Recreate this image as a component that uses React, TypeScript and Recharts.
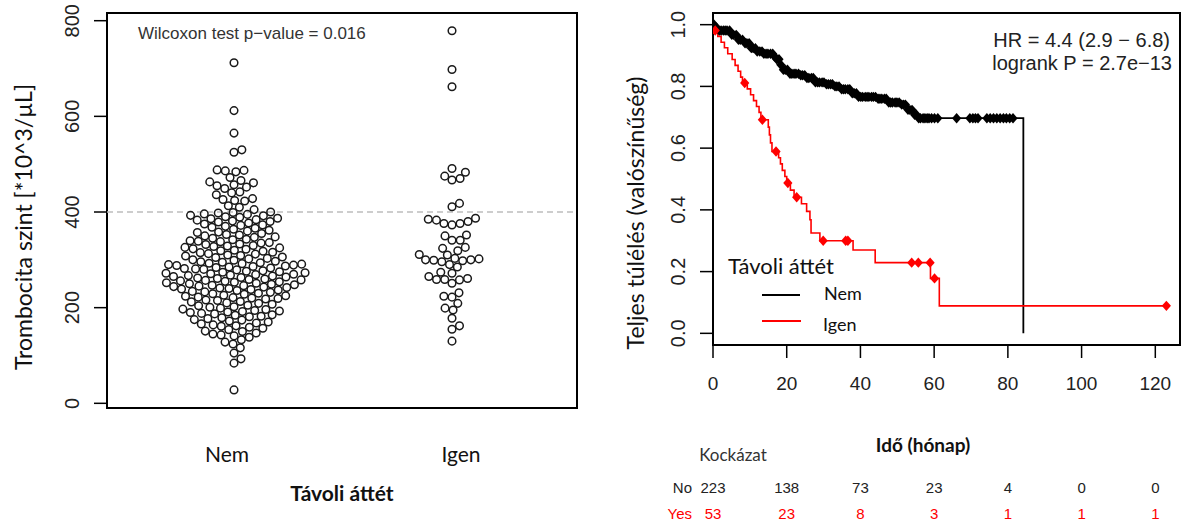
import React from 'react';
import {
  ScatterChart,
  Scatter,
  XAxis,
  YAxis,
  ReferenceLine,
  ReferenceArea,
  ComposedChart,
  Line,
} from 'recharts';

// ---------------- DATA ----------------
const groupLabels = ['Nem', 'Igen'];

const nemValues = [
  712, 612, 565, 530, 525,
  488, 487, 486, 484, 472, 466, 463, 461, 457, 455, 452, 449,
  442, 440, 436, 428, 426, 424, 423, 413, 410, 405,
  28, 84, 93,
  105, 116,
  124, 128, 133, 138,
  141, 143, 145, 147, 150, 151, 154, 157, 159,
  161, 162, 164, 166, 168, 170, 172, 174, 175, 177, 179,
  181, 182, 184, 185, 187, 188, 190, 191, 192, 193, 194, 196, 197, 199,
  201, 202, 204, 205, 207, 209, 210, 212, 213, 215, 216, 218, 219,
  220, 221, 222, 224, 225, 226, 228, 229, 230, 232, 233, 234, 236, 237, 238, 239,
  240, 241, 242, 243, 244, 245, 246, 247, 248, 249, 250, 251, 252, 253, 254, 255, 256, 257, 258, 259,
  260, 261, 262, 263, 264, 265, 266, 267, 268, 269, 270, 271, 272, 273, 274, 275, 276, 277, 279,
  280, 281, 282, 283, 284, 285, 286, 287, 288, 289, 290, 291, 292, 293, 294, 295, 296, 297, 299,
  300, 302, 303, 305, 306, 308, 309, 310, 312, 313, 315, 316, 318, 319,
  320, 322, 323, 325, 326, 328, 329, 330, 332, 333, 335, 336, 338, 339,
  340, 342, 343, 345, 347, 348, 350, 352, 353, 355, 357, 358,
  360, 362, 364, 366, 368, 370, 372, 373, 375, 377, 379,
  380, 381, 383, 384, 386, 387, 389, 390, 392, 393, 395, 396, 398, 399, 400,
];

const igenValues = [
  779, 698, 662,
  491, 483, 475, 470, 467,
  418, 411,
  387, 385, 383, 380, 376, 376, 373,
  352, 350, 341, 341,
  326, 324, 319,
  311, 310, 303, 302, 300, 300, 299, 298, 296, 290,
  285, 274, 272, 265,
  261, 259, 259, 258, 251,
  231, 224, 222,
  209, 199, 195,
  178, 162, 155, 130,
];

const leftYTicks = [0, 200, 400, 600, 800];
const thresholdValue = 400;
const wilcoxonText = 'Wilcoxon test p\u2212value = 0.016';

// Kaplan-Meier (time in months, survival)
const nemKm: [number, number][] = [
  [0, 1], [0.8, 0.991], [1.5, 0.981], [5.0, 0.967], [6.4, 0.951], [8.2, 0.94], [10, 0.924],
  [11.8, 0.913], [13.6, 0.906], [16.5, 0.897], [17.3, 0.888], [18.2, 0.87], [19.1, 0.854],
  [20.4, 0.841], [23.6, 0.836], [25.4, 0.827], [27.7, 0.813], [30.8, 0.807], [32.5, 0.8],
  [34.5, 0.791], [37.2, 0.778], [39, 0.766], [44.4, 0.76], [47.1, 0.748], [50.7, 0.741],
  [52.5, 0.724], [54.3, 0.708], [55.7, 0.697], [84.2, 0],
];
const igenKm: [number, number][] = [
  [0, 1], [0.4, 0.981], [1.3, 0.962], [2.2, 0.943], [3.1, 0.925], [4.0, 0.906], [5.2, 0.887],
  [6.0, 0.868], [6.8, 0.849], [7.5, 0.83], [8.0, 0.811], [9.3, 0.792], [10.2, 0.773],
  [11.0, 0.754], [11.8, 0.735], [12.5, 0.716], [13.0, 0.692], [15.0, 0.668], [15.3, 0.643],
  [15.6, 0.617], [16.0, 0.589], [17.8, 0.569], [18.3, 0.549], [18.8, 0.528], [19.5, 0.508],
  [20.0, 0.487], [21.0, 0.464], [22.0, 0.441], [24.0, 0.42], [25.4, 0.395], [26.3, 0.368],
  [26.6, 0.325], [29.0, 0.3], [38.0, 0.27], [44.0, 0.229], [59.0, 0.178], [61.4, 0.089],
  [123, 0.089],
];
const nemCensorTimes = [
  0.3, 0.9, 1.7, 2.2, 2.8, 3.3, 3.8, 4.5, 5.1, 5.6, 6.3, 6.9, 7.4, 8.0, 8.7, 9.2, 9.8,
  10.4, 10.9, 11.5, 12.0, 12.7, 13.3, 13.8, 14.4, 14.9, 15.6, 16.2, 16.7, 17.3, 17.9, 18.4, 19.1, 19.6,
  20.2, 20.9, 21.4, 22.0, 22.5, 23.2, 23.8, 24.3, 24.9, 25.5, 26.0, 26.7, 27.2, 27.8, 28.4, 28.9, 29.6,
  30.1, 30.8, 31.3, 31.9, 32.4, 33.1, 33.6, 34.2, 34.9, 35.4, 35.9, 36.6, 37.1, 37.8, 38.3, 38.9, 39.5,
  40.1, 40.6, 41.3, 41.8, 42.3, 43.0, 43.5, 44.1, 44.8, 45.3, 45.8, 46.5, 47.0, 47.7, 48.2, 48.7, 49.4, 49.9,
  50.5, 51.2, 51.7, 52.2, 52.9, 53.4, 54.0, 54.7, 55.2, 55.8, 56.3, 57.0, 57.5, 58.1, 58.6, 59.3, 60.1, 61.0,
  66.1, 69.7, 70.5, 71.2, 71.9, 74.3, 75.2, 76.1, 77.0, 77.9, 78.8, 79.6, 80.5, 81.4,
];
const igenCensorTimes = [0.6, 8.6, 13.4, 17.1, 20.3, 22.7, 29.9, 36.0, 36.6, 53.9, 55.7, 58.9, 60.1, 123];

const kmXTicks = [0, 20, 40, 60, 80, 100, 120];
const kmYTicks = [0, 0.2, 0.4, 0.6, 0.8, 1.0];
const riskNo = [223, 138, 73, 23, 4, 0, 0];
const riskYes = [53, 23, 8, 3, 1, 1, 1];
const hrText = 'HR = 4.4 (2.9 \u2212 6.8)';
const logrankText = 'logrank P = 2.7e\u221213';

// ---------------- STYLE / LAYOUT ----------------
const ARIAL = '"Liberation Sans", Arial, Helvetica, sans-serif';
const CALIBRI = 'Lato, "Open Sans", sans-serif';
const RED = '#ff0000';

const L_X_DOMAIN: [number, number] = [0.4174, 2.5734];
const L_Y_DOMAIN: [number, number] = [-9.8, 816.1];
const L_PLOT_W = 470;
const L_PLOT_H = 395;
const PX_PER_X = L_PLOT_W / (L_X_DOMAIN[1] - L_X_DOMAIN[0]);
const PX_PER_Y = L_PLOT_H / (L_Y_DOMAIN[1] - L_Y_DOMAIN[0]);
const DOT_SPACING = 8.2;

const R_X_DOMAIN: [number, number] = [0, 126.7];
const R_Y_DOMAIN: [number, number] = [-0.0378, 1.0378];

// beeswarm "swarm" layout (ascending priority), computed in pixel space
function swarm(values: number[], center: number) {
  const sorted = [...values].sort((a, b) => a - b);
  const placed: { x: number; y: number }[] = [];
  const out: { x: number; y: number }[] = [];
  const D = DOT_SPACING;
  for (const v of sorted) {
    const y = v * PX_PER_Y;
    const cands: number[] = [0];
    const near = placed.filter((p) => Math.abs(p.y - y) < D);
    for (const p of near) cands.push(p.x + Math.sqrt(D * D - (p.y - y) ** 2));
    for (const p of near) cands.push(p.x - Math.sqrt(D * D - (p.y - y) ** 2));
    let best: number | null = null;
    for (const c of cands) {
      const bad = near.some((p) => (p.x - c) ** 2 + (p.y - y) ** 2 < D * D - 1e-6);
      if (bad) continue;
      if (best === null || Math.abs(c) < Math.abs(best)) best = c;
    }
    const bx = best === null ? 0 : best;
    placed.push({ x: bx, y });
    out.push({ x: center + bx / PX_PER_X, y: v });
  }
  return out;
}

const nemPoints = swarm(nemValues, 1);
const igenPoints = swarm(igenValues, 2);

const toSteps = (arr: [number, number][]) => arr.map(([t, s]) => ({ t, s }));
const survAt = (arr: [number, number][], t: number) => {
  let s = arr[0][1];
  for (const [tt, ss] of arr) if (tt <= t) s = ss;
  return s;
};
const nemSteps = toSteps(nemKm);
const igenSteps = toSteps(igenKm);
const nemCensor = nemCensorTimes.map((t) => ({ t, s: survAt(nemKm, t) }));
const igenCensor = igenCensorTimes.map((t) => ({ t, s: survAt(igenKm, t) }));

// ---------------- SHAPES / TICKS ----------------
const OpenCircle = (props: any) => {
  const { cx, cy } = props;
  if (cx == null || cy == null) return null;
  return <circle cx={cx} cy={cy} r={3.8} fill="none" stroke="#1a1a1a" strokeWidth={1.5} />;
};

const makeDiamond = (color: string) => (props: any) => {
  const { cx, cy } = props;
  if (cx == null || cy == null) return null;
  const w = 4.6;
  const h = 5.2;
  return (
    <polygon
      points={`${cx},${cy - h} ${cx + w},${cy} ${cx},${cy + h} ${cx - w},${cy}`}
      fill={color}
    />
  );
};
const BlackDiamond = makeDiamond('#000');
const RedDiamond = makeDiamond(RED);

const RotYTick = (digits: number) => (props: any) => {
  const { x, y, payload } = props;
  const label = digits > 0 ? Number(payload.value).toFixed(digits) : String(payload.value);
  return (
    <text
      x={x}
      y={y}
      transform={`rotate(-90, ${x}, ${y})`}
      textAnchor="middle"
      fontFamily={ARIAL}
      fontSize={20}
      fill="#222"
    >
      {label}
    </text>
  );
};
const LeftYTick = RotYTick(0);
const RightYTick = RotYTick(1);

const labelNudge: Record<number, number> = { 1: -7, 2: 9 };
const CatTick = (props: any) => {
  const { x, payload } = props;
  const label = groupLabels[payload.value - 1];
  return (
    <text
      x={x + (labelNudge[payload.value] || 0)}
      y={453}
      textAnchor="middle"
      dominantBaseline="central"
      fontFamily={CALIBRI}
      fontSize={21}
      fill="#111"
    >
      {label}
    </text>
  );
};

const KmXTick = (props: any) => {
  const { x, payload } = props;
  const i = kmXTicks.indexOf(payload.value);
  return (
    <g>
      <text x={x} y={383} textAnchor="middle" dominantBaseline="central" fontFamily={ARIAL} fontSize={19} fill="#222">
        {payload.value}
      </text>
      <text x={x} y={487} textAnchor="middle" dominantBaseline="central" fontFamily={ARIAL} fontSize={15} fill="#222">
        {riskNo[i]}
      </text>
      <text x={x} y={513} textAnchor="middle" dominantBaseline="central" fontFamily={ARIAL} fontSize={15} fill={RED}>
        {riskYes[i]}
      </text>
    </g>
  );
};

// ---------------- APP ----------------
export default function App() {
  return (
    <div
      style={{
        position: 'absolute',
        left: 0,
        top: 0,
        width: 1182,
        height: 520,
        background: '#fff',
        overflow: 'hidden',
      }}
    >
      {/* Left: beeswarm */}
      <div style={{ position: 'absolute', left: 0, top: 0 }}>
        <ScatterChart width={600} height={520} margin={{ top: 13, right: 23, bottom: 52, left: 0 }}>
          <XAxis
            type="number"
            dataKey="x"
            domain={L_X_DOMAIN}
            ticks={[1, 2]}
            height={60}
            axisLine={false}
            tickLine={false}
            tick={<CatTick />}
            allowDataOverflow
          />
          <YAxis
            type="number"
            dataKey="y"
            domain={L_Y_DOMAIN}
            ticks={leftYTicks}
            width={107}
            axisLine={false}
            tickSize={13}
            tickMargin={15}
            tickLine={{ stroke: '#000', strokeWidth: 1.5 }}
            tick={<LeftYTick />}
            allowDataOverflow
          />
          <ReferenceLine y={thresholdValue} stroke="#bdbdbd" strokeDasharray="6 4" strokeWidth={1.5} />
          <ReferenceArea
            x1={L_X_DOMAIN[0]}
            x2={L_X_DOMAIN[1]}
            y1={L_Y_DOMAIN[0]}
            y2={L_Y_DOMAIN[1]}
            fill="none"
            fillOpacity={0}
            stroke="#000"
            strokeWidth={2}
            ifOverflow="visible"
          />
          <Scatter data={nemPoints} shape={<OpenCircle />} isAnimationActive={false} />
          <Scatter data={igenPoints} shape={<OpenCircle />} isAnimationActive={false} />
        </ScatterChart>
      </div>

      {/* Right: Kaplan-Meier */}
      <div style={{ position: 'absolute', left: 600, top: 0 }}>
        <ComposedChart width={582} height={520} margin={{ top: 13, right: 2, bottom: 125, left: 0 }}>
          <XAxis
            type="number"
            dataKey="t"
            domain={R_X_DOMAIN}
            ticks={kmXTicks}
            height={50}
            axisLine={false}
            tickSize={13}
            tickLine={{ stroke: '#000', strokeWidth: 1.5 }}
            tick={<KmXTick />}
            allowDataOverflow
          />
          <YAxis
            type="number"
            dataKey="s"
            domain={R_Y_DOMAIN}
            ticks={kmYTicks}
            width={113}
            axisLine={false}
            tickSize={13}
            tickMargin={15}
            tickLine={{ stroke: '#000', strokeWidth: 1.5 }}
            tick={<RightYTick />}
            allowDataOverflow
          />
          <ReferenceArea
            x1={R_X_DOMAIN[0]}
            x2={R_X_DOMAIN[1]}
            y1={R_Y_DOMAIN[0]}
            y2={R_Y_DOMAIN[1]}
            fill="none"
            fillOpacity={0}
            stroke="#000"
            strokeWidth={2}
            ifOverflow="visible"
          />
          <Line
            data={nemSteps}
            dataKey="s"
            type="stepAfter"
            stroke="#000"
            strokeWidth={1.8}
            dot={false}
            activeDot={false}
            isAnimationActive={false}
          />
          <Line
            data={igenSteps}
            dataKey="s"
            type="stepAfter"
            stroke={RED}
            strokeWidth={1.6}
            dot={false}
            activeDot={false}
            isAnimationActive={false}
          />
          <Scatter data={nemCensor} shape={<BlackDiamond />} isAnimationActive={false} />
          <Scatter data={igenCensor} shape={<RedDiamond />} isAnimationActive={false} />
        </ComposedChart>
      </div>

      {/* Text overlay */}
      <svg
        width={1182}
        height={520}
        style={{ position: 'absolute', left: 0, top: 0, pointerEvents: 'none' }}
      >
        <text x={138} y={33} dominantBaseline="central" fontFamily={ARIAL} fontSize={17} fill="#333">
          {wilcoxonText}
        </text>
        <text
          transform="translate(23,227) rotate(-90)"
          textAnchor="middle"
          dominantBaseline="central"
          fontFamily={CALIBRI}
          fontSize={23}
          fill="#111"
        >
          Trombocita szint [*10^3/µL]
        </text>
        <text x={342} y={492} textAnchor="middle" dominantBaseline="central" fontFamily={CALIBRI} fontWeight="bold" fontSize={21} fill="#111">
          Távoli áttét
        </text>

        <text
          transform="translate(635,213) rotate(-90)"
          textAnchor="middle"
          dominantBaseline="central"
          fontFamily={CALIBRI}
          fontSize={23}
          fill="#111"
        >
          Teljes túlélés (valószínűség)
        </text>
        <text x={1170} y={40} textAnchor="end" dominantBaseline="central" fontFamily={ARIAL} fontSize={20} fill="#222">
          {hrText}
        </text>
        <text x={1172} y={63} textAnchor="end" dominantBaseline="central" fontFamily={ARIAL} fontSize={20} fill="#222">
          {logrankText}
        </text>

        <text x={728} y={265} dominantBaseline="central" fontFamily={CALIBRI} fontSize={22} fill="#111">
          Távoli áttét
        </text>
        <line x1={762} y1={295} x2={800} y2={295} stroke="#000" strokeWidth={2} />
        <text x={824} y={293} dominantBaseline="central" fontFamily={CALIBRI} fontSize={18} fill="#111">
          Nem
        </text>
        <line x1={762} y1={321} x2={801} y2={321} stroke={RED} strokeWidth={2} />
        <text x={823} y={324} dominantBaseline="central" fontFamily={CALIBRI} fontSize={18} fill="#111">
          Igen
        </text>

        <text x={923} y={444} textAnchor="middle" dominantBaseline="central" fontFamily={CALIBRI} fontWeight="bold" fontSize={19} fill="#111">
          Idő (hónap)
        </text>
        <text x={733} y={454} textAnchor="middle" dominantBaseline="central" fontFamily={CALIBRI} fontSize={17} fill="#333">
          Kockázat
        </text>
        <text x={692} y={487} textAnchor="end" dominantBaseline="central" fontFamily={ARIAL} fontSize={15} fill="#222">
          No
        </text>
        <text x={692} y={513} textAnchor="end" dominantBaseline="central" fontFamily={ARIAL} fontSize={15} fill={RED}>
          Yes
        </text>
      </svg>
    </div>
  );
}
